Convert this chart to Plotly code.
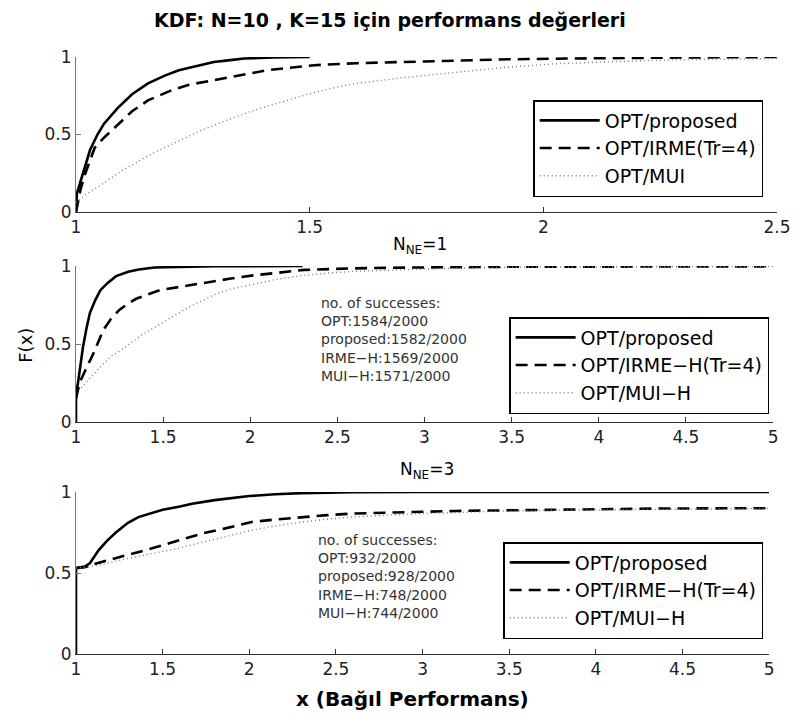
import plotly.graph_objects as go

# ---------------- data ----------------
series_names_1 = ["OPT/proposed", "OPT/IRME(Tr=4)", "OPT/MUI"]
series_names_23 = ["OPT/proposed", "OPT/IRME\u2212H(Tr=4)", "OPT/MUI\u2212H"]

# Panel 1 (top)
x1_opt = [1.0, 1.002, 1.01, 1.02, 1.03, 1.046, 1.06, 1.089, 1.12, 1.154, 1.19, 1.22, 1.26, 1.295, 1.33, 1.36, 1.42, 1.5]
y1_opt = [0.0, 0.12, 0.2, 0.3, 0.4, 0.5, 0.57, 0.67, 0.76, 0.83, 0.88, 0.915, 0.945, 0.968, 0.98, 0.99, 0.997, 1.0]
x1_irme = [1.0, 1.01, 1.02, 1.04, 1.06, 1.089, 1.12, 1.154, 1.2, 1.24, 1.29, 1.33, 1.41, 1.51, 1.6, 1.71, 1.8, 1.925, 2.05, 2.14, 2.3, 2.5]
y1_irme = [0.0, 0.15, 0.25, 0.415, 0.48, 0.56, 0.65, 0.72, 0.78, 0.82, 0.85, 0.87, 0.915, 0.947, 0.96, 0.97, 0.977, 0.985, 0.99, 0.994, 0.997, 1.0]
x1_mui = [1.0, 1.02, 1.056, 1.1, 1.165, 1.22, 1.27, 1.33, 1.38, 1.44, 1.49, 1.55, 1.6, 1.71, 1.82, 1.925, 2.03, 2.15, 2.25, 2.4, 2.5]
y1_mui = [0.06, 0.11, 0.18, 0.27, 0.38, 0.46, 0.53, 0.6, 0.655, 0.71, 0.755, 0.8, 0.83, 0.87, 0.905, 0.935, 0.957, 0.97, 0.98, 0.987, 0.99]

# Panel 2 (N_NE = 1)
x2_opt = [1.0, 1.0, 1.01, 1.02, 1.04, 1.06, 1.08, 1.11, 1.14, 1.18, 1.23, 1.3, 1.36, 1.45, 1.6, 1.8, 2.0, 2.3]
y2_opt = [0.0, 0.18, 0.24, 0.32, 0.48, 0.6, 0.7, 0.78, 0.845, 0.89, 0.935, 0.963, 0.978, 0.99, 0.995, 0.998, 0.999, 1.0]
x2_irme = [1.0, 1.02, 1.053, 1.1, 1.157, 1.2, 1.25, 1.3, 1.345, 1.42, 1.48, 1.59, 1.75, 1.88, 2.02, 2.17, 2.31, 2.6, 2.9, 3.5, 4.0, 5.0]
y2_irme = [0.15, 0.25, 0.33, 0.44, 0.59, 0.66, 0.72, 0.76, 0.79, 0.82, 0.845, 0.865, 0.895, 0.918, 0.94, 0.96, 0.975, 0.985, 0.99, 0.995, 0.997, 0.998]
x2_mui = [1.03, 1.053, 1.12, 1.2, 1.27, 1.33, 1.38, 1.44, 1.5, 1.59, 1.66, 1.73, 1.8, 1.88, 2.02, 2.15, 2.31, 2.45, 2.6, 2.9, 3.19, 3.6, 4.06, 5.0]
y2_mui = [0.22, 0.25, 0.33, 0.42, 0.47, 0.52, 0.56, 0.6, 0.64, 0.7, 0.745, 0.78, 0.82, 0.85, 0.886, 0.915, 0.94, 0.955, 0.966, 0.978, 0.987, 0.993, 0.996, 0.998]

# Panel 3 (N_NE = 3)
x3_opt = [1.0, 1.0, 1.05, 1.08, 1.13, 1.18, 1.23, 1.3, 1.36, 1.45, 1.5, 1.6, 1.67, 1.8, 1.88, 2.0, 2.15, 2.3, 2.6, 3.0, 5.0]
y3_opt = [0.0, 0.53, 0.54, 0.56, 0.64, 0.7, 0.75, 0.81, 0.845, 0.875, 0.89, 0.91, 0.928, 0.95, 0.959, 0.975, 0.986, 0.993, 0.998, 1.0, 1.0]
x3_irme = [1.0, 1.05, 1.09, 1.2, 1.29, 1.4, 1.5, 1.6, 1.73, 1.88, 2.02, 2.15, 2.31, 2.45, 2.6, 2.9, 3.19, 3.5, 3.77, 4.1, 4.36, 5.0]
y3_irme = [0.53, 0.535, 0.55, 0.585, 0.61, 0.64, 0.672, 0.7, 0.744, 0.78, 0.816, 0.83, 0.846, 0.857, 0.867, 0.877, 0.883, 0.887, 0.891, 0.895, 0.898, 0.9]
x3_mui = [1.0, 1.05, 1.09, 1.2, 1.3, 1.44, 1.6, 1.73, 1.88, 2.02, 2.15, 2.31, 2.45, 2.6, 2.9, 3.2, 3.48, 3.8, 4.07, 4.5, 5.0]
y3_mui = [0.53, 0.535, 0.54, 0.565, 0.59, 0.62, 0.655, 0.69, 0.73, 0.765, 0.79, 0.816, 0.832, 0.846, 0.863, 0.875, 0.883, 0.888, 0.891, 0.895, 0.898]

x_ticks_top = [1, 1.5, 2, 2.5]
x_ticks_low = [1, 1.5, 2, 2.5, 3, 3.5, 4, 4.5, 5]
y_ticks = [0, 0.5, 1]

main_title = "KDF: N=10 , K=15 için performans değerleri"
sub_title_2 = "N<sub>NE</sub>=1"
sub_title_3 = "N<sub>NE</sub>=3"
x_title = "x (Bağıl Performans)"
y_title = "F(x)"
note_2 = ["no. of successes:", "OPT:1584/2000", "proposed:1582/2000", "IRME\u2212H:1569/2000", "MUI\u2212H:1571/2000"]
note_3 = ["no. of successes:", "OPT:932/2000", "proposed:928/2000", "IRME\u2212H:748/2000", "MUI\u2212H:744/2000"]

# ---------------- styling ----------------
FONT = "DejaVu Sans"
styles = [
    dict(color="black", width=2.6, dash="solid"),
    dict(color="black", width=2.6, dash="12px,7px"),
    dict(color="#7a7a7a", width=1.4, dash="1px,3px"),
]

fig = go.Figure()

panels = [
    (1, [(x1_opt, y1_opt), (x1_irme, y1_irme), (x1_mui, y1_mui)], series_names_1, "legend"),
    (2, [(x2_opt, y2_opt), (x2_irme, y2_irme), (x2_mui, y2_mui)], series_names_23, "legend2"),
    (3, [(x3_opt, y3_opt), (x3_irme, y3_irme), (x3_mui, y3_mui)], series_names_23, "legend3"),
]
for idx, series, names, leg in panels:
    ax = "" if idx == 1 else str(idx)
    for (xs, ys), name, st in zip(series, names, styles):
        fig.add_trace(go.Scatter(x=xs, y=ys, mode="lines", name=name, line=st,
                                 xaxis="x" + ax, yaxis="y" + ax, legend=leg))

# page geometry: the html body adds an 8 px margin; the figure is sized so the
# page does not scroll.
OFF = 8
FIG_W, FIG_H = 803 - OFF, 702
L, R, T, B = 76, 787, 57, 654          # plot area in page pixels
W, H = R - L, B - T

def px(xp):
    return (xp - L) / W

def py(yp):
    return (B - yp) / H

axis_common = dict(showline=True, linewidth=1, showgrid=False, zeroline=False,
                   ticks="inside", ticklen=5, tickwidth=1, mirror=False,
                   tickfont=dict(family=FONT, size=17, color="#222"))

fig.update_layout(
    width=FIG_W, height=FIG_H,
    margin=dict(l=L - OFF, r=FIG_W - (R - OFF), t=T - OFF, b=FIG_H - (B - OFF)),
    paper_bgcolor="white", plot_bgcolor="white",
    font=dict(family=FONT, color="black"),
    xaxis=dict(domain=[0, 1], range=[1, 2.5], tickvals=x_ticks_top,
               ticktext=[str(v) for v in x_ticks_top], anchor="y",
               linecolor="#333", tickcolor="#333", **axis_common),
    yaxis=dict(domain=[py(212), 1], range=[0, 1], tickvals=y_ticks,
               ticktext=["0", "0.5", "1"], anchor="x",
               linecolor="#777", tickcolor="#777", **axis_common),
    xaxis2=dict(domain=[0, px(783)], range=[1, 5], tickvals=x_ticks_low,
                ticktext=[str(v) for v in x_ticks_low], anchor="y2",
                linecolor="#333", tickcolor="#333", **axis_common),
    yaxis2=dict(domain=[py(422), py(266)], range=[0, 1], tickvals=y_ticks,
                ticktext=["0", "0.5", "1"], anchor="x2",
                linecolor="#777", tickcolor="#777", **axis_common),
    xaxis3=dict(domain=[0, px(779)], range=[1, 5], tickvals=x_ticks_low,
                ticktext=[str(v) for v in x_ticks_low], anchor="y3",
                linecolor="#333", tickcolor="#333", **axis_common),
    yaxis3=dict(domain=[0, py(492)], range=[0, 1], tickvals=y_ticks,
                ticktext=["0", "0.5", "1"], anchor="x3",
                linecolor="#777", tickcolor="#777", **axis_common),
    showlegend=True,
)

leg_common = dict(bgcolor="white", bordercolor="black", borderwidth=1.5,
                  font=dict(family=FONT, size=19, color="black"),
                  xref="paper", yref="paper", xanchor="right", yanchor="top",
                  itemwidth=60, tracegroupgap=0)
fig.update_layout(
    legend=dict(x=px(773), y=py(100), **leg_common),
    legend2=dict(x=px(779), y=py(317), **leg_common),
    legend3=dict(x=px(773), y=py(542), **leg_common),
)

ann = []
ann.append(dict(text="<b>" + main_title + "</b>", x=px(394), y=py(20), xref="paper", yref="paper",
                showarrow=False, xanchor="center", yanchor="middle",
                font=dict(family=FONT, size=19, color="black")))
ann.append(dict(text=sub_title_2, x=px(425), y=py(245), xref="paper", yref="paper",
                showarrow=False, xanchor="center", yanchor="middle",
                font=dict(family=FONT, size=17, color="black")))
ann.append(dict(text=sub_title_3, x=px(432), y=py(470), xref="paper", yref="paper",
                showarrow=False, xanchor="center", yanchor="middle",
                font=dict(family=FONT, size=17, color="black")))
ann.append(dict(text="<b>" + x_title + "</b>", x=px(417), y=py(699), xref="paper", yref="paper",
                showarrow=False, xanchor="center", yanchor="middle",
                font=dict(family=FONT, size=20, color="black")))
ann.append(dict(text=y_title, x=px(24), y=py(345), xref="paper", yref="paper",
                showarrow=False, xanchor="center", yanchor="middle", textangle=-90,
                font=dict(family=FONT, size=18, color="black")))
ann.append(dict(text="<br>".join(note_2), x=px(322), y=py(293), xref="paper", yref="paper",
                showarrow=False, xanchor="left", yanchor="top", align="left",
                font=dict(family=FONT, size=14, color="#333")))
ann.append(dict(text="<br>".join(note_3), x=px(319), y=py(530), xref="paper", yref="paper",
                showarrow=False, xanchor="left", yanchor="top", align="left",
                font=dict(family=FONT, size=14, color="#333")))
fig.update_layout(annotations=ann)

fig.write_html("out.html")
